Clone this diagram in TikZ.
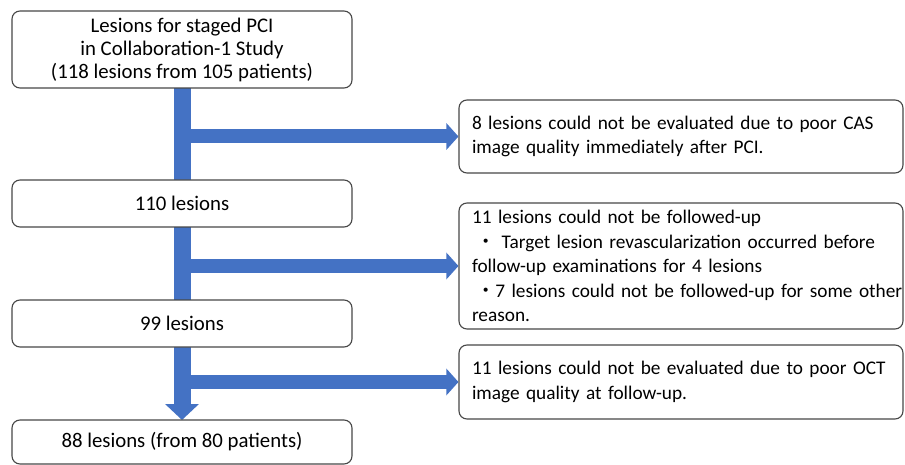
\documentclass[tikz,border=0pt]{standalone}
\usepackage{fontspec}
\setmainfont{Carlito}
\newfontfamily\cjk{Noto Sans CJK JP}
\usetikzlibrary{arrows.meta}
\definecolor{flowblue}{HTML}{4472C4}
\begin{document}
\begin{tikzpicture}[x=1pt,y=-1pt,
  box/.style={draw=black!72, line width=1.1pt, rounded corners=8pt, fill=white, inner sep=0pt},
  lbox/.style={box, minimum width=340pt, align=center, font=\fontsize{20.8}{23}\selectfont},
  rbox/.style={box, minimum width=444pt, text width=418pt, align=left, font=\fontsize{19.3}{24.5}\selectfont},
  trunk/.style={draw=flowblue, line width=17pt, -{Triangle[width=33pt,length=16pt]}},
  branch/.style={draw=flowblue, line width=14pt, -{Triangle[width=26pt,length=12pt]}}]
\useasboundingbox (0,0) rectangle (905,465);
% coordinates for boxes
\coordinate (c1) at (182,49.5);
\coordinate (c2) at (182,203.5);
\coordinate (c3) at (182,323.5);
\coordinate (c4) at (182,442);
% trunk drawn first (behind boxes)
\path (c1) ++(0,38.5) coordinate (t0);
\path (c4) ++(0,-22) coordinate (t1);
\draw[trunk] (t0) -- (t1);
% right boxes
\node[rbox, minimum height=73pt] (r1) at (681,136.5) {\mbox{8 lesions could not be evaluated due to poor CAS}\\image quality immediately after PCI.};
\node[rbox, minimum height=126pt] (r2) at (681,266) {11 lesions could not be followed-up\\\hspace*{4pt}{\cjk ・}\mbox{ Target lesion revascularization occurred before}\\follow-up examinations for 4 lesions\\\hspace*{4pt}{\cjk ・}\mbox{7 lesions could not be followed-up for some other}\\reason.};
\node[rbox, minimum height=74pt] (r3) at (681,382) {\mbox{11 lesions could not be evaluated due to poor OCT}\\image quality at follow-up.};
% branches
\draw[branch] (t0 |- r1.west) -- (r1.west);
\draw[branch] (t0 |- r2.west) -- (r2.west);
\draw[branch] (t0 |- r3.west) -- (r3.west);
% left boxes
\node[lbox, minimum height=77pt] (b1) at (c1) {Lesions for staged PCI\\in Collaboration-1 Study\\(118 lesions from 105 patients)};
\node[lbox, minimum height=47pt] (b2) at (c2) {110 lesions};
\node[lbox, minimum height=47pt] (b3) at (c3) {99 lesions};
\node[lbox, minimum height=44pt] (b4) at (c4) {88 lesions (from 80 patients)};
\end{tikzpicture}
\end{document}
